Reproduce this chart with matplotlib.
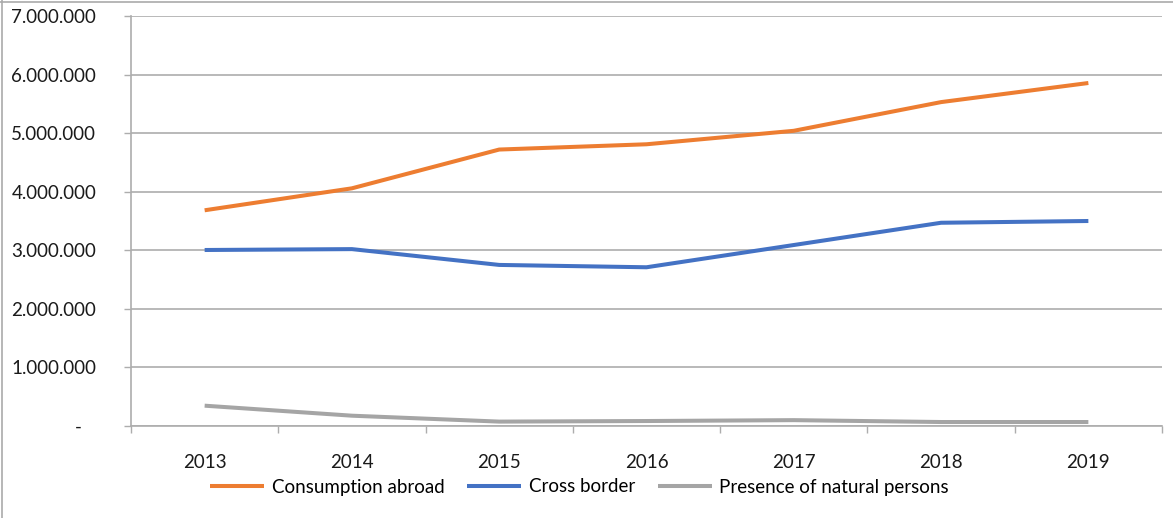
import numpy as np
import matplotlib.pyplot as plt
from matplotlib.ticker import FuncFormatter, FixedLocator
from matplotlib.lines import Line2D

years = ["2013", "2014", "2015", "2016", "2017", "2018", "2019"]
consumption_abroad = [3683000, 4058000, 4720000, 4810000, 5040000, 5530000, 5856000]
cross_border = [3005000, 3020000, 2750000, 2710000, 3090000, 3470000, 3500000]
natural_persons = [347000, 176000, 75000, 85000, 100000, 68000, 68000]

plt.rcParams['font.family'] = ['Lato', 'DejaVu Sans']

fig = plt.figure(figsize=(11.73, 5.18), dpi=100)
ax = fig.add_axes([131 / 1173, 92 / 518, 1031 / 1173, 410 / 518])

x = np.arange(len(years))
ax.plot(x, consumption_abroad, color="#ED7D31", lw=2.9, label="Consumption abroad",
        solid_joinstyle="round", solid_capstyle="butt")
ax.plot(x, cross_border, color="#4472C4", lw=2.9, label="Cross border",
        solid_joinstyle="round", solid_capstyle="butt")
ax.plot(x, natural_persons, color="#A5A5A5", lw=2.9, label="Presence of natural persons",
        solid_joinstyle="round", solid_capstyle="butt")

ax.set_xlim(-0.5, len(years) - 0.5)
ax.set_ylim(0, 7000000)

# y axis: gridlines every million, accounting-style dash for zero
ax.set_yticks(np.arange(0, 7000001, 1000000))
ax.yaxis.set_major_formatter(FuncFormatter(
    lambda v, p: "-   " if v == 0 else f"{int(v):,}".replace(",", ".")))
ax.grid(axis="y", color="#ADADAD", lw=1.2)
ax.set_axisbelow(True)

# x axis: labels at category centres, ticks between categories
ax.set_xticks(x)
ax.set_xticklabels(years)
ax.xaxis.set_minor_locator(FixedLocator(np.arange(-0.5, len(years), 1.0)))
ax.tick_params(axis="x", which="major", length=0, pad=20, labelsize=13.5, colors="#1a1a1a")
ax.tick_params(axis="x", which="minor", length=5, width=1.0, color="#ADADAD")
ax.tick_params(axis="y", length=5, width=1.0, color="#ADADAD", pad=20, labelsize=13.5,
               labelcolor="#1a1a1a")

for side in ["top", "right"]:
    ax.spines[side].set_visible(False)
for side in ["left", "bottom"]:
    ax.spines[side].set_color("#ADADAD")
    ax.spines[side].set_linewidth(1.2)

fig.legend(loc="lower center", bbox_to_anchor=(0.494, 0.0), ncol=3, frameon=False,
           fontsize=13.5, handlelength=2.9, handletextpad=0.4, columnspacing=1.2,
           borderaxespad=0.8)

# thin frame along the left and top edges
fig.add_artist(Line2D([0.0015, 0.0015], [0, 1], transform=fig.transFigure, color="#AAAAAA", lw=1.2))
fig.add_artist(Line2D([0, 1], [0.997, 0.997], transform=fig.transFigure, color="#AAAAAA", lw=1.2))

fig.savefig("out.png", dpi=100)
